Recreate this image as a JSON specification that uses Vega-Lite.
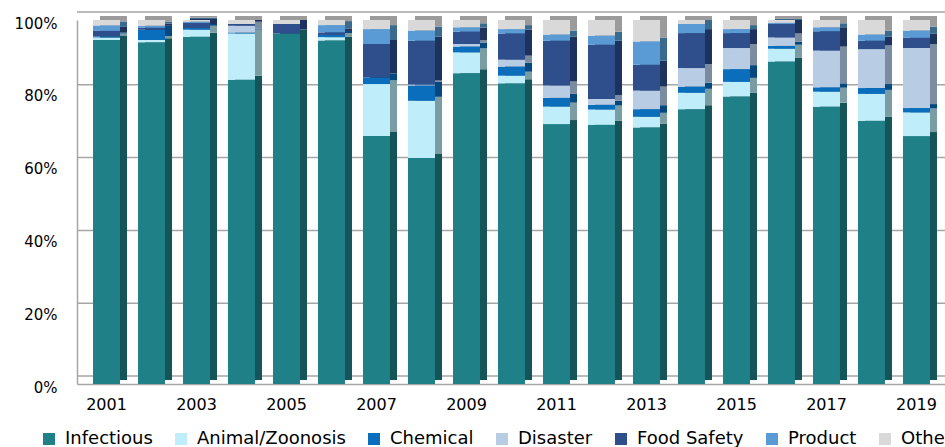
{
  "$schema": "https://vega.github.io/schema/vega-lite/v6.json",
  "width": 869,
  "height": 364,
  "autosize": {"type": "none"},
  "padding": {"left": 77, "top": 20, "right": 0, "bottom": 63},
  "background": "white",
  "config": {
    "view": {"stroke": null},
    "font": "DejaVu Sans",
    "axisY": {"domainColor": "#A6A6A6", "domainWidth": 1.5, "ticks": false, "grid": false, "labelFontSize": 15, "labelColor": "#000000", "labelPadding": 20, "labelOffset": 3, "title": null},
    "axisX": {"domainColor": "#A6A6A6", "domainWidth": 1.5, "ticks": false, "grid": false, "labelFontSize": 16, "labelColor": "#000000", "labelPadding": 12, "labelAngle": 0, "title": null},
    "legend": {"labelFont": "DejaVu Sans"}
  },
  "datasets": {
    "cats": [
      {"c": "Infectious", "k": 1},
      {"c": "Animal/Zoonosis", "k": 2},
      {"c": "Chemical", "k": 3},
      {"c": "Disaster", "k": 4},
      {"c": "Food Safety", "k": 5},
      {"c": "Product", "k": 6},
      {"c": "Other", "k": 7}
    ],
    "grid": [{"g": 0}, {"g": 0.2}, {"g": 0.4}, {"g": 0.6}, {"g": 0.8}, {"g": 1}],
    "shares": [
      {"year": 2001, "Infectious": 94.6, "Animal/Zoonosis": 0.7, "Chemical": 0.3, "Disaster": 0, "Food Safety": 1.5, "Product": 1.5, "Other": 1.5},
      {"year": 2002, "Infectious": 93.9, "Animal/Zoonosis": 0.6, "Chemical": 2.8, "Disaster": 0, "Food Safety": 0.6, "Product": 0.5, "Other": 1.6},
      {"year": 2003, "Infectious": 95.4, "Animal/Zoonosis": 1.9, "Chemical": 0.5, "Disaster": 0, "Food Safety": 1.4, "Product": 0.3, "Other": 0.5},
      {"year": 2004, "Infectious": 83.6, "Animal/Zoonosis": 12.7, "Chemical": 0.3, "Disaster": 1.8, "Food Safety": 0.5, "Product": 0, "Other": 1.1},
      {"year": 2005, "Infectious": 96.3, "Animal/Zoonosis": 0, "Chemical": 0, "Disaster": 0, "Food Safety": 2.6, "Product": 0, "Other": 1.1},
      {"year": 2006, "Infectious": 94.3, "Animal/Zoonosis": 0.9, "Chemical": 0.6, "Disaster": 0, "Food Safety": 0.7, "Product": 2.0, "Other": 1.4},
      {"year": 2007, "Infectious": 68.1, "Animal/Zoonosis": 14.3, "Chemical": 1.8, "Disaster": 0, "Food Safety": 9.2, "Product": 4.1, "Other": 2.5},
      {"year": 2008, "Infectious": 62.1, "Animal/Zoonosis": 15.7, "Chemical": 4.2, "Disaster": 0.3, "Food Safety": 12.0, "Product": 2.8, "Other": 2.9},
      {"year": 2009, "Infectious": 85.4, "Animal/Zoonosis": 5.7, "Chemical": 1.6, "Disaster": 0.7, "Food Safety": 3.4, "Product": 1.2, "Other": 2.0},
      {"year": 2010, "Infectious": 82.6, "Animal/Zoonosis": 2.1, "Chemical": 2.5, "Disaster": 1.9, "Food Safety": 7.2, "Product": 1.2, "Other": 2.5},
      {"year": 2011, "Infectious": 71.4, "Animal/Zoonosis": 4.8, "Chemical": 2.4, "Disaster": 3.4, "Food Safety": 12.3, "Product": 1.7, "Other": 4.0},
      {"year": 2012, "Infectious": 71.2, "Animal/Zoonosis": 4.2, "Chemical": 1.3, "Disaster": 1.6, "Food Safety": 14.9, "Product": 2.5, "Other": 4.3},
      {"year": 2013, "Infectious": 70.5, "Animal/Zoonosis": 2.9, "Chemical": 2.1, "Disaster": 5.1, "Food Safety": 7.1, "Product": 6.4, "Other": 5.9},
      {"year": 2014, "Infectious": 75.5, "Animal/Zoonosis": 4.5, "Chemical": 1.7, "Disaster": 5.1, "Food Safety": 9.6, "Product": 2.5, "Other": 1.1},
      {"year": 2015, "Infectious": 79.0, "Animal/Zoonosis": 4.0, "Chemical": 3.5, "Disaster": 5.8, "Food Safety": 4.1, "Product": 1.1, "Other": 2.5},
      {"year": 2016, "Infectious": 88.6, "Animal/Zoonosis": 3.5, "Chemical": 0.8, "Disaster": 2.3, "Food Safety": 3.7, "Product": 0.3, "Other": 0.8},
      {"year": 2017, "Infectious": 76.2, "Animal/Zoonosis": 4.1, "Chemical": 1.2, "Disaster": 10.1, "Food Safety": 5.3, "Product": 1.1, "Other": 2.0},
      {"year": 2018, "Infectious": 72.3, "Animal/Zoonosis": 7.4, "Chemical": 1.6, "Disaster": 10.7, "Food Safety": 2.3, "Product": 1.7, "Other": 4.0},
      {"year": 2019, "Infectious": 68.1, "Animal/Zoonosis": 6.5, "Chemical": 1.2, "Disaster": 16.5, "Food Safety": 2.8, "Product": 2.0, "Other": 2.9}
    ]
  },
  "layer": [
    {
      "data": {"name": "grid"},
      "mark": {"type": "rule", "color": "#A6A6A6", "strokeWidth": 1.5, "yOffset": -8},
      "encoding": {
        "y": {"field": "g", "type": "quantitative", "scale": {"domain": [0, 1], "nice": false},
              "axis": {"values": [0, 0.2, 0.4, 0.6, 0.8, 1], "format": ".0%"}}
      }
    },
    {
      "data": {"name": "shares"},
      "transform": [
        {"fold": ["Infectious", "Animal/Zoonosis", "Chemical", "Disaster", "Food Safety", "Product", "Other"], "as": ["c", "v"]},
        {"filter": "datum.v > 0"},
        {"lookup": "c", "from": {"data": {"name": "cats"}, "key": "c", "fields": ["k"]}}
      ],
      "layer": [
        {
          "mark": {"type": "bar", "width": {"band": 1}, "xOffset": 7, "yOffset": -4, "y2Offset": -4},
          "encoding": {
            "x": {"field": "year", "type": "ordinal", "scale": {"paddingInner": 0.4, "paddingOuter": 0.356},
                  "axis": {"values": [2001, 2003, 2005, 2007, 2009, 2011, 2013, 2015, 2017, 2019]}},
            "y": {"field": "v", "type": "quantitative", "stack": "normalize", "scale": {"domain": [0, 1], "nice": false},
                  "axis": {"values": [0, 0.2, 0.4, 0.6, 0.8, 1], "format": ".0%"}},
            "order": {"field": "k", "type": "quantitative"},
            "color": {"field": "c", "type": "nominal", "legend": null,
              "scale": {"domain": ["Infectious", "Animal/Zoonosis", "Chemical", "Disaster", "Food Safety", "Product", "Other"],
                        "range": ["#155459", "#7A9DA3", "#05477F", "#7B8CA1", "#1E325E", "#3B6A8F", "#9B9B9B"]}}
          }
        },
        {
          "mark": {"type": "bar", "width": {"band": 1}},
          "encoding": {
            "x": {"field": "year", "type": "ordinal", "scale": {"paddingInner": 0.4, "paddingOuter": 0.356},
                  "axis": {"values": [2001, 2003, 2005, 2007, 2009, 2011, 2013, 2015, 2017, 2019]}},
            "y": {"field": "v", "type": "quantitative", "stack": "normalize", "scale": {"domain": [0, 1], "nice": false},
                  "axis": {"values": [0, 0.2, 0.4, 0.6, 0.8, 1], "format": ".0%"}},
            "order": {"field": "k", "type": "quantitative"},
            "color": {"field": "c", "type": "nominal",
              "scale": {"domain": ["Infectious", "Animal/Zoonosis", "Chemical", "Disaster", "Food Safety", "Product", "Other"],
                        "range": ["#1F8088", "#BFEEFA", "#0A6EBD", "#B8CCE4", "#2E4E8C", "#5B9BD5", "#D9D9D9"]},
              "legend": {"title": null, "orient": "none", "direction": "horizontal", "legendX": -37, "legendY": 410,
                         "symbolType": "square", "symbolSize": 144, "symbolStrokeWidth": 0,
                         "labelFontSize": 18, "labelColor": "#000000", "labelOffset": 7, "columnPadding": 19, "labelLimit": 400}}
          }
        }
      ],
      "resolve": {"scale": {"color": "independent"}}
    }
  ]
}
